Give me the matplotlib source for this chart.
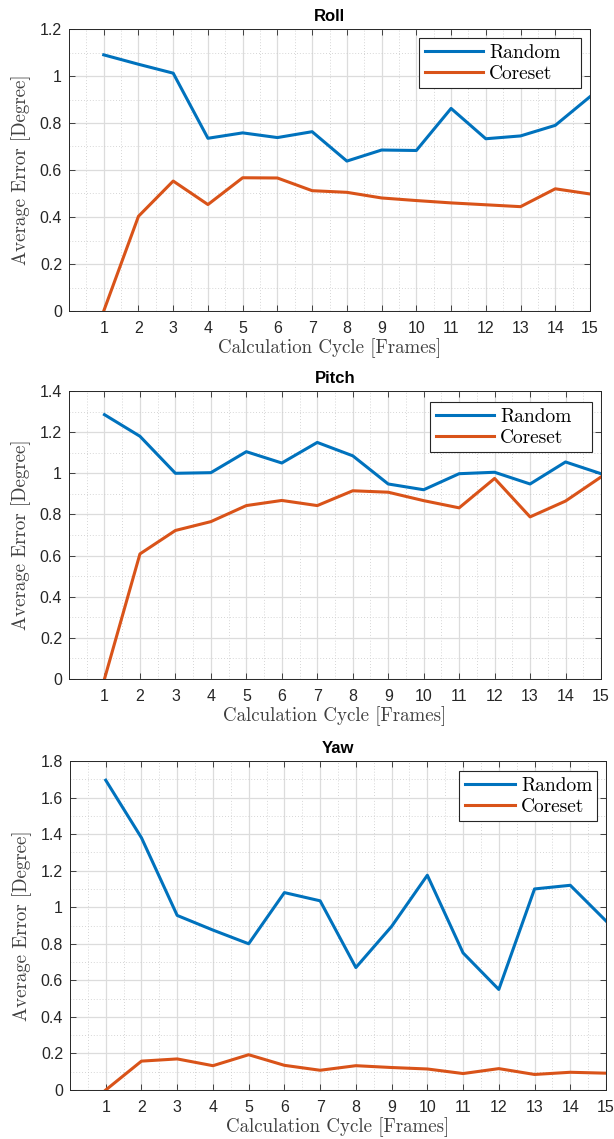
import numpy as np
import matplotlib
matplotlib.use('Agg')
import matplotlib.pyplot as plt
from matplotlib.ticker import MultipleLocator

cycles = list(range(1, 16))

roll_random = [1.09, 1.05, 1.012, 0.735, 0.758, 0.738, 0.763, 0.638, 0.685, 0.683, 0.862, 0.733, 0.745, 0.790, 0.912]
roll_coreset = [0.0, 0.403, 0.553, 0.453, 0.567, 0.566, 0.512, 0.505, 0.481, 0.470, 0.460, 0.452, 0.444, 0.520, 0.498]

pitch_random = [1.285, 1.18, 1.0, 1.003, 1.105, 1.05, 1.15, 1.085, 0.948, 0.92, 0.998, 1.005, 0.948, 1.055, 0.998]
pitch_coreset = [0.0, 0.608, 0.722, 0.765, 0.843, 0.868, 0.843, 0.915, 0.908, 0.867, 0.832, 0.975, 0.788, 0.865, 0.982]

yaw_random = [1.695, 1.38, 0.955, 0.875, 0.80, 1.08, 1.035, 0.67, 0.895, 1.175, 0.75, 0.55, 1.10, 1.12, 0.925]
yaw_coreset = [0.0, 0.158, 0.17, 0.133, 0.193, 0.135, 0.108, 0.133, 0.123, 0.115, 0.09, 0.117, 0.085, 0.097, 0.092]

titles = ['Roll', 'Pitch', 'Yaw']
ymaxes = [1.2, 1.4, 1.8]

# MATLAB default colours
c_blue = '#0072BD'
c_red = '#D95319'

serif = 'cmr10'
sans = 'Liberation Sans'

W, H = 614, 1139
fig = plt.figure(figsize=(W / 100, H / 100), dpi=100)

# axes boxes in pixels: left, top, right, bottom
boxes = [(69, 29, 590, 311), (69, 391, 601, 679), (70, 761, 606, 1090)]
# legend boxes in pixels: left, top, right, bottom
leg_boxes = [(419, 38, 581, 92), (430, 402, 592, 454), (459, 771, 597, 823)]
hlens = [3.0, 3.0, 2.6]

data = [(roll_random, roll_coreset), (pitch_random, pitch_coreset), (yaw_random, yaw_coreset)]

for i in range(3):
  l, t, r, b = boxes[i]
  ax = fig.add_axes([l / W, 1 - b / H, (r - l) / W, (b - t) / H])
  rnd, cor = data[i]
  ax.plot(cycles, rnd, color=c_blue, lw=2.2, label='Random')
  ax.plot(cycles, cor, color=c_red, lw=2.2, label='Coreset')
  ax.set_xlim(0, 15)
  ax.set_ylim(0, ymaxes[i])
  ax.set_xticks(cycles)
  ax.yaxis.set_major_locator(MultipleLocator(0.2))
  ax.xaxis.set_minor_locator(MultipleLocator(0.5))
  ax.yaxis.set_minor_locator(MultipleLocator(0.1))
  ax.set_yticklabels(['0' if abs(v) < 1e-9 else ('%g' % v) for v in ax.get_yticks()])
  ax.grid(which='major', color='#dcdcdc', lw=0.9, ls='-')
  ax.grid(which='minor', color='#c8c8c8', lw=0.6, ls=(0, (1, 2.5)))
  ax.set_axisbelow(True)
  ax.tick_params(which='both', direction='in', top=True, right=True, labelsize=11.5, colors='#262626')
  ax.tick_params(which='minor', length=0)
  ax.tick_params(which='major', length=4, width=0.6)
  ax.tick_params(axis='x', pad=7)
  ax.tick_params(axis='y', pad=5)
  for lab in ax.get_xticklabels() + ax.get_yticklabels():
    lab.set_fontfamily(sans)
  for s in ax.spines.values():
    s.set_color('#262626')
    s.set_linewidth(0.7)
  ax.set_title(titles[i], fontfamily=sans, fontweight='bold', fontsize=12, pad=6)
  ax.set_xlabel('Calculation Cycle [Frames]', fontfamily=serif, fontsize=13.6, color='#404040', labelpad=2)
  ax.set_ylabel('Average Error [Degree]', fontfamily=serif, fontsize=13.6, color='#404040', labelpad=6)
  ll, lt, lr, lb = leg_boxes[i]
  leg = ax.legend(loc='upper left',
                  bbox_to_anchor=(ll / W, 1 - lb / H, (lr - ll) / W, (lb - lt) / H),
                  bbox_transform=fig.transFigure, mode='expand',
                  prop={'family': serif, 'size': 14}, frameon=True, fancybox=False,
                  edgecolor='#262626', framealpha=1, handlelength=hlens[i], borderaxespad=0,
                  labelspacing=0.15, handletextpad=0.3, borderpad=0.3)
  leg.get_frame().set_linewidth(0.8)

fig.savefig('out.png', dpi=100)
